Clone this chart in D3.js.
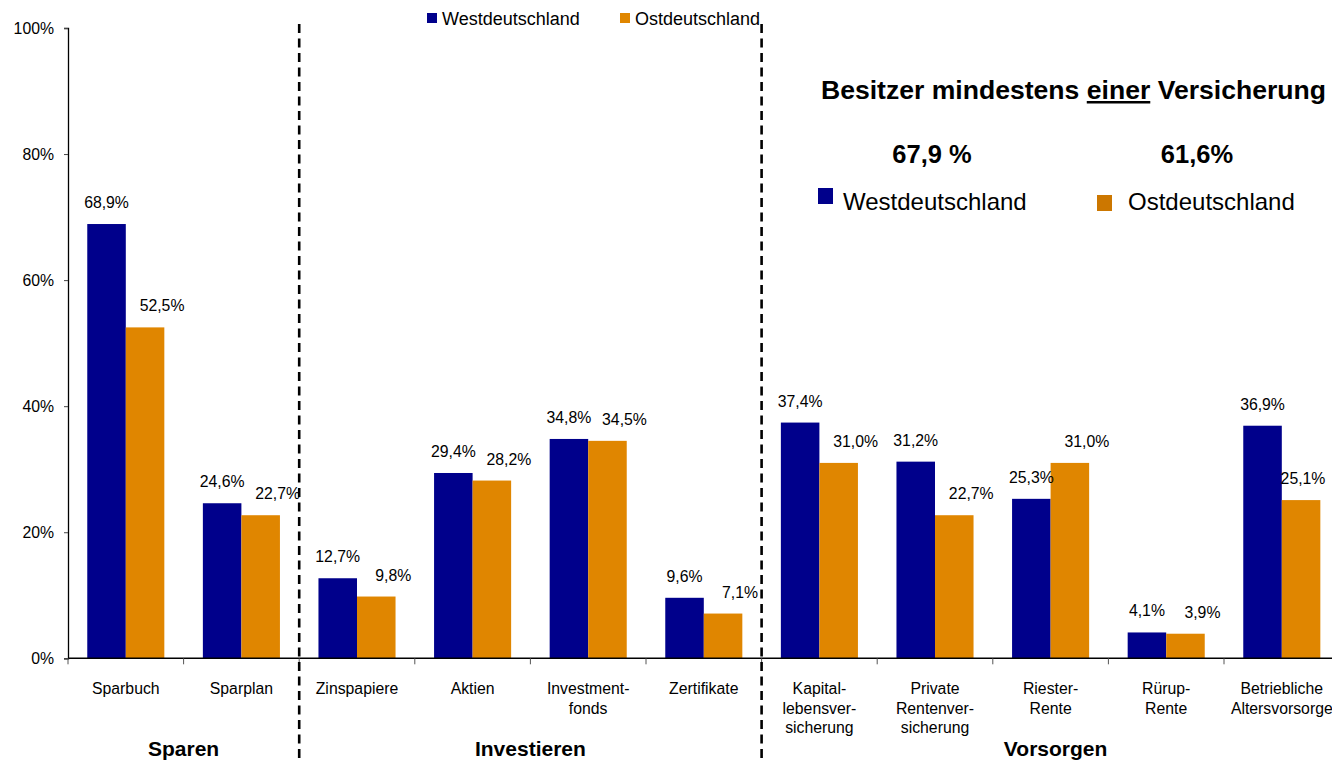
<!DOCTYPE html>
<html>
<head>
<meta charset="utf-8">
<script src="https://cdn.jsdelivr.net/npm/d3@7"></script>
<style>
  html, body { margin: 0; padding: 0; background: #fff; overflow: hidden; }
  text { font-family: "Liberation Sans", Arial, sans-serif; fill: #000; }
</style>
</head>
<body>
<svg id="chart" width="1332" height="763"></svg>
<script>
// ---- data ----
const categories = ["Sparbuch", "Sparplan", "Zinspapiere", "Aktien", "Investment-\nfonds", "Zertifikate",
  "Kapital-\nlebensver-\nsicherung", "Private\nRentenver-\nsicherung", "Riester-\nRente", "Rürup-\nRente",
  "Betriebliche\nAltersvorsorge"];
const seriesNames = ["Westdeutschland", "Ostdeutschland"];
const west = [68.9, 24.6, 12.7, 29.4, 34.8, 9.6, 37.4, 31.2, 25.3, 4.1, 36.9];
const east = [52.5, 22.7, 9.8, 28.2, 34.5, 7.1, 31.0, 22.7, 31.0, 3.9, 25.1];
const yTicks = [0, 20, 40, 60, 80, 100];
const groupNames = ["Sparen", "Investieren", "Vorsorgen"];
const groupFirst = ["Sparbuch", "Zinspapiere", "Kapital-\nlebensver-\nsicherung"];
const groupLast = ["Sparplan", "Zertifikate", "Betriebliche\nAltersvorsorge"];
const summaryTitle = ["Besitzer mindestens ", "einer", " Versicherung"];
const summaryValues = ["67,9 %", "61,6%"];

(function () {
// ---- styles ----
const colors = { Westdeutschland: "#00008B", Ostdeutschland: "#E08600" };
const legendColors2 = { Westdeutschland: "#00008B", Ostdeutschland: "#CC7700" };
const font = "'Liberation Sans', Arial, sans-serif";

const svg = d3.select("#chart");
const pL = 68, pR = 1339.6, pT = 28, pB = 658.3;

const x0 = d3.scaleBand().domain(categories).range([pL, pR]).paddingInner(0).paddingOuter(0);
const x1 = d3.scaleBand().domain(seriesNames).range([0, x0.bandwidth()]).paddingInner(0).paddingOuter(0.5);
const y = d3.scaleLinear().domain([0, 100]).range([pB, pT]);

const rows = categories.map((c, i) => ({ cat: c, values: [
  { s: "Westdeutschland", v: west[i], cat: c }, { s: "Ostdeutschland", v: east[i], cat: c } ] }));

// bars
const g = svg.append("g").selectAll("g").data(rows).join("g")
  .attr("transform", d => `translate(${x0(d.cat)},0)`);
g.selectAll("rect").data(d => d.values).join("rect")
  .attr("x", d => x1(d.s))
  .attr("y", d => y(d.v))
  .attr("width", x1.bandwidth())
  .attr("height", d => y(0) - y(d.v))
  .attr("fill", d => colors[d.s]);

// value labels
const fmt = v => d3.format(".1f")(v).replace(".", ",") + "%";
g.selectAll("text.val").data(d => d.values).join("text")
  .attr("class", "val")
  .attr("x", d => {
    const gx = x0(d.cat);
    let cx = x1(d.s) + x1.bandwidth() / 2 + (d.s === "Ostdeutschland" ? 17 : 0);
    const halfW = 23;
    if (gx + cx + halfW > 1326) cx = 1326 - halfW - gx;
    return cx;
  })
  .attr("y", d => y(d.v) - 16)
  .attr("text-anchor", "middle")
  .style("font-size", "15.8px")
  .text(d => fmt(d.v));

// y axis
const yAxis = d3.axisLeft(y).tickValues(yTicks).tickFormat(d => d + "%").tickSize(4).tickPadding(10);
const ya = svg.append("g").attr("transform", `translate(${pL},0)`).call(yAxis);
ya.select(".domain").attr("stroke", "#000").attr("stroke-width", 1.3);
ya.selectAll(".tick line").attr("stroke", "#444");
ya.selectAll(".tick text").style("font-size", "15.8px").style("font-family", font).attr("fill", "#000");

// x axis (category boundary ticks)
const boundaries = categories.map(c => x0(c)).concat([pR]);
svg.append("line").attr("x1", pL).attr("x2", pR).attr("y1", y(0)).attr("y2", y(0))
  .attr("stroke", "#000").attr("stroke-width", 1.5);
svg.append("g").selectAll("line").data(boundaries).join("line")
  .attr("x1", d => d).attr("x2", d => d).attr("y1", y(0)).attr("y2", y(0) + 6)
  .attr("stroke", "#555").attr("stroke-width", 1);

// category labels
const cl = svg.append("g").selectAll("text").data(categories).join("text")
  .attr("x", d => x0(d) + x0.bandwidth() / 2)
  .attr("y", 694)
  .attr("text-anchor", "middle")
  .style("font-size", "15.8px");
cl.each(function(d) {
  const t = d3.select(this);
  d.split("\n").forEach((line, i) => {
    t.append("tspan").attr("x", x0(d) + x0.bandwidth() / 2).attr("dy", i === 0 ? 0 : 19.5).text(line);
  });
});

// dashed separators
const seps = [x0("Zinspapiere"), x0("Kapital-\nlebensver-\nsicherung")];
svg.append("g").selectAll("line").data(seps).join("line")
  .attr("x1", d => d).attr("x2", d => d).attr("y1", 24).attr("y2", 768)
  .attr("stroke", "#000").attr("stroke-width", 2.6).attr("stroke-dasharray", "9,5.5");

// group labels
svg.append("g").selectAll("text").data(groupNames).join("text")
  .attr("x", (d, i) => (x0(groupFirst[i]) + x0(groupLast[i]) + x0.bandwidth()) / 2 + (i === 2 ? 5 : 0))
  .attr("y", 756)
  .attr("text-anchor", "middle")
  .style("font-size", "21px").style("font-weight", "bold")
  .text(d => d);

// top legend
const tl = svg.append("g");
const tlX = [427, 620];
seriesNames.forEach((s, i) => {
  tl.append("rect").attr("x", tlX[i]).attr("y", 13).attr("width", 10).attr("height", 10).attr("fill", colors[s]);
  tl.append("text").attr("x", tlX[i] + 15).attr("y", 25).style("font-size", "18px").text(s);
});

// right summary block
const title = svg.append("text").attr("x", 821).attr("y", 99)
  .style("font-size", "25px").style("font-weight", "bold")
  .attr("textLength", 505).attr("lengthAdjust", "spacingAndGlyphs");
summaryTitle.forEach((t, i) => {
  const ts = title.append("tspan").text(t);
  if (i === 1) ts.style("text-decoration", "underline");
});
const sumX = [932, 1197];
svg.append("g").selectAll("text").data(summaryValues).join("text")
  .attr("x", (d, i) => sumX[i]).attr("y", 163).attr("text-anchor", "middle")
  .style("font-size", "25.5px").style("font-weight", "bold").text(d => d);
const rlSq = [[818, 188], [1097, 195]];
const rlTx = [843, 1128];
seriesNames.forEach((s, i) => {
  svg.append("rect").attr("x", rlSq[i][0]).attr("y", rlSq[i][1]).attr("width", 15).attr("height", 16)
    .attr("fill", legendColors2[s]);
  svg.append("text").attr("x", rlTx[i]).attr("y", 210).style("font-size", "24px").text(s);
});
})();
</script>
</body>
</html>
